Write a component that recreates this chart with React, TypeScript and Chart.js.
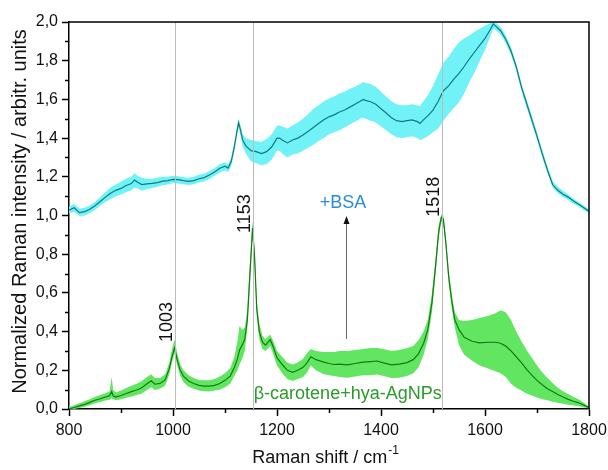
import { useEffect, useRef } from 'react';
import { Chart, registerables } from 'chart.js';

Chart.register(...registerables);

// ---- data ----
const cyanX = [800,810,820,830,840,850,860,870,880,890,900,910,920,926,932,940,950,960,970,980,990,1000,1010,1020,1030,1040,1050,1060,1070,1080,1090,1100,1106,1112,1118,1122,1126,1130,1134,1140,1150,1160,1170,1180,1190,1200,1205,1210,1220,1230,1240,1250,1260,1270,1280,1290,1300,1310,1320,1330,1340,1350,1360,1366,1370,1380,1390,1400,1410,1420,1430,1440,1450,1460,1470,1475,1480,1490,1500,1510,1520,1530,1540,1550,1560,1570,1580,1590,1600,1610,1616,1620,1630,1640,1650,1660,1670,1680,1690,1700,1710,1720,1730,1740,1750,1760,1770,1780,1790,1800];
const cyanMean = [1.028,1.04,1.015,1.02,1.032,1.05,1.072,1.095,1.115,1.13,1.14,1.155,1.165,1.183,1.172,1.16,1.163,1.166,1.17,1.178,1.18,1.187,1.185,1.18,1.176,1.18,1.19,1.196,1.209,1.225,1.244,1.255,1.245,1.28,1.356,1.42,1.48,1.44,1.39,1.36,1.335,1.33,1.32,1.33,1.355,1.4,1.4,1.39,1.375,1.39,1.4,1.416,1.435,1.455,1.475,1.495,1.51,1.52,1.535,1.545,1.56,1.575,1.59,1.6,1.595,1.588,1.575,1.552,1.53,1.505,1.49,1.485,1.49,1.494,1.485,1.476,1.49,1.515,1.545,1.59,1.645,1.67,1.705,1.735,1.77,1.81,1.845,1.88,1.915,1.96,1.99,1.98,1.955,1.91,1.85,1.77,1.665,1.58,1.495,1.41,1.32,1.235,1.16,1.13,1.11,1.095,1.075,1.058,1.04,1.022];
const cyanUpper = [1.045,1.06,1.035,1.04,1.052,1.07,1.095,1.12,1.145,1.16,1.175,1.19,1.2,1.22,1.205,1.195,1.19,1.19,1.195,1.2,1.2,1.205,1.203,1.198,1.195,1.2,1.21,1.216,1.23,1.245,1.265,1.275,1.265,1.3,1.38,1.44,1.5,1.465,1.42,1.4,1.39,1.385,1.38,1.395,1.42,1.465,1.465,1.46,1.45,1.465,1.48,1.5,1.525,1.55,1.57,1.59,1.605,1.615,1.63,1.64,1.655,1.665,1.68,1.69,1.685,1.68,1.665,1.64,1.615,1.59,1.575,1.57,1.57,1.575,1.57,1.565,1.585,1.62,1.67,1.73,1.79,1.82,1.86,1.895,1.915,1.93,1.95,1.965,1.98,1.995,2.0,1.998,1.975,1.93,1.87,1.785,1.685,1.6,1.515,1.43,1.34,1.255,1.18,1.148,1.128,1.108,1.088,1.07,1.052,1.032];
const cyanLower = [1.01,1.02,0.998,1.0,1.012,1.03,1.05,1.07,1.085,1.1,1.108,1.12,1.13,1.145,1.14,1.128,1.136,1.142,1.148,1.156,1.16,1.168,1.166,1.162,1.158,1.162,1.17,1.176,1.188,1.205,1.222,1.232,1.225,1.255,1.33,1.395,1.455,1.41,1.355,1.32,1.28,1.27,1.26,1.265,1.29,1.335,1.335,1.32,1.3,1.315,1.32,1.335,1.35,1.365,1.385,1.4,1.42,1.43,1.44,1.455,1.47,1.485,1.5,1.505,1.5,1.49,1.48,1.46,1.44,1.42,1.405,1.4,1.405,1.41,1.4,1.39,1.395,1.41,1.43,1.45,1.49,1.525,1.555,1.585,1.63,1.69,1.74,1.8,1.855,1.925,1.965,1.96,1.935,1.89,1.83,1.75,1.645,1.56,1.475,1.39,1.3,1.22,1.145,1.115,1.095,1.08,1.062,1.046,1.028,1.012];

const greenX = [800,810,820,830,840,850,860,870,878,882,885,890,900,910,920,930,940,950,958,965,975,985,993,998,1003,1008,1014,1020,1030,1040,1050,1060,1070,1080,1090,1100,1110,1118,1124,1128,1133,1138,1143,1148,1153,1157,1161,1166,1172,1178,1187,1193,1200,1210,1220,1230,1240,1250,1258,1265,1275,1290,1300,1310,1320,1335,1350,1365,1380,1392,1405,1420,1435,1450,1462,1472,1482,1490,1498,1505,1511,1516,1520,1525,1530,1536,1542,1550,1560,1575,1590,1605,1620,1630,1640,1650,1660,1670,1680,1690,1700,1710,1720,1730,1740,1750,1760,1770,1780,1790,1800];
const greenMean = [0.0,0.008,0.016,0.024,0.034,0.045,0.053,0.062,0.068,0.09,0.068,0.062,0.07,0.08,0.09,0.098,0.11,0.13,0.146,0.128,0.132,0.15,0.21,0.27,0.315,0.255,0.2,0.17,0.145,0.132,0.122,0.118,0.118,0.122,0.132,0.148,0.17,0.215,0.26,0.305,0.33,0.36,0.46,0.7,0.935,0.78,0.52,0.4,0.345,0.33,0.358,0.32,0.265,0.23,0.2,0.19,0.2,0.215,0.24,0.27,0.255,0.242,0.235,0.23,0.232,0.228,0.235,0.242,0.245,0.248,0.238,0.228,0.232,0.24,0.255,0.285,0.34,0.41,0.55,0.74,0.92,0.99,0.98,0.85,0.69,0.56,0.46,0.41,0.37,0.35,0.342,0.345,0.345,0.34,0.325,0.3,0.27,0.24,0.205,0.175,0.148,0.125,0.105,0.09,0.075,0.062,0.05,0.04,0.032,0.02,0.008];
const greenUpper = [0.01,0.02,0.03,0.04,0.05,0.063,0.072,0.082,0.09,0.165,0.1,0.085,0.095,0.108,0.12,0.13,0.145,0.165,0.18,0.16,0.16,0.18,0.24,0.31,0.36,0.29,0.23,0.2,0.175,0.16,0.15,0.148,0.148,0.155,0.168,0.185,0.21,0.27,0.35,0.43,0.41,0.42,0.52,0.76,0.975,0.82,0.56,0.44,0.38,0.36,0.385,0.35,0.3,0.27,0.24,0.23,0.24,0.26,0.29,0.31,0.3,0.295,0.295,0.295,0.3,0.3,0.305,0.31,0.315,0.315,0.31,0.3,0.305,0.315,0.325,0.355,0.4,0.46,0.6,0.78,0.95,1.005,1.0,0.88,0.72,0.59,0.5,0.46,0.455,0.46,0.47,0.48,0.495,0.51,0.5,0.46,0.4,0.35,0.305,0.265,0.225,0.19,0.16,0.135,0.11,0.092,0.078,0.062,0.05,0.032,0.012];
const greenLower = [0.0,0.0,0.005,0.012,0.02,0.03,0.036,0.044,0.048,0.055,0.05,0.045,0.05,0.058,0.065,0.072,0.08,0.098,0.112,0.098,0.105,0.122,0.18,0.24,0.285,0.225,0.17,0.14,0.115,0.105,0.095,0.092,0.09,0.095,0.1,0.112,0.13,0.17,0.2,0.23,0.26,0.3,0.42,0.65,0.89,0.74,0.48,0.36,0.31,0.3,0.325,0.28,0.225,0.185,0.155,0.145,0.155,0.165,0.19,0.225,0.2,0.18,0.175,0.17,0.165,0.162,0.168,0.175,0.175,0.178,0.17,0.16,0.162,0.17,0.185,0.215,0.28,0.36,0.5,0.7,0.88,0.97,0.955,0.82,0.65,0.52,0.42,0.33,0.28,0.25,0.225,0.21,0.195,0.185,0.165,0.13,0.11,0.095,0.08,0.07,0.06,0.05,0.045,0.038,0.032,0.027,0.022,0.018,0.014,0.008,0.003];

const peakPositions = [1003, 1153, 1518];
const peakLabels = ['1003', '1153', '1518'];
const xMinorTicks = [900, 1100, 1300, 1500, 1700];
const yMinorTicks = [0.1, 0.3, 0.5, 0.7, 0.9, 1.1, 1.3, 1.5, 1.7, 1.9];

const FONT = "'Liberation Sans', Arial, sans-serif";

export default function App() {
  const ref = useRef<HTMLCanvasElement>(null);

  useEffect(() => {
    const canvas = ref.current;
    if (!canvas) return;
    const pts = (xs: number[], ys: number[]) => xs.map((x, i) => ({ x, y: ys[i] }));

    const decor = {
      id: 'decor',
      afterDatasetsDraw(chart: any) {
        const { ctx, chartArea: a, scales } = chart;
        const xs = scales.x;
        const ys = scales.y;
        ctx.save();
        // reference lines
        ctx.strokeStyle = '#bdbdbd';
        ctx.lineWidth = 1;
        peakPositions.forEach((v) => {
          const px = Math.round(xs.getPixelForValue(v)) + 0.5;
          ctx.beginPath();
          ctx.moveTo(px, a.top);
          ctx.lineTo(px, a.bottom);
          ctx.stroke();
        });
        // peak labels (rotated)
        const labelBottoms = [0.346, 0.91, 0.994];
        ctx.fillStyle = '#111';
        ctx.font = `18px ${FONT}`;
        ctx.textAlign = 'left';
        ctx.textBaseline = 'alphabetic';
        peakPositions.forEach((v, i) => {
          const px = xs.getPixelForValue(v) - 3;
          const py = ys.getPixelForValue(labelBottoms[i]);
          ctx.save();
          ctx.translate(px, py);
          ctx.rotate(-Math.PI / 2);
          ctx.fillText(peakLabels[i], 0, 0);
          ctx.restore();
        });
        // arrow
        const ax = Math.round(xs.getPixelForValue(1332)) + 0.5;
        const ay0 = ys.getPixelForValue(0.362);
        const ay1 = ys.getPixelForValue(0.997);
        ctx.strokeStyle = '#666';
        ctx.lineWidth = 1;
        ctx.beginPath();
        ctx.moveTo(ax, ay0);
        ctx.lineTo(ax, ay1 + 6);
        ctx.stroke();
        ctx.fillStyle = '#111';
        ctx.beginPath();
        ctx.moveTo(ax, ay1);
        ctx.lineTo(ax - 3, ay1 + 8);
        ctx.lineTo(ax + 3, ay1 + 8);
        ctx.closePath();
        ctx.fill();
        // +BSA
        ctx.fillStyle = '#2a8fd2';
        ctx.textAlign = 'center';
        ctx.textBaseline = 'middle';
        ctx.font = `18px ${FONT}`;
        ctx.fillText('+BSA', xs.getPixelForValue(1327), ys.getPixelForValue(1.067));
        // series label
        ctx.fillStyle = '#2a9a2a';
        ctx.fillText('β-carotene+hya-AgNPs', xs.getPixelForValue(1336), ys.getPixelForValue(0.076));
        ctx.restore();
      },
      afterDraw(chart: any) {
        const { ctx, chartArea: a, scales } = chart;
        const xs = scales.x;
        const ys = scales.y;
        ctx.save();
        ctx.strokeStyle = '#000';
        ctx.lineWidth = 1.5;
        ctx.beginPath();
        ctx.moveTo(a.left, a.top);
        ctx.lineTo(a.right, a.top);
        ctx.lineTo(a.right, a.bottom);
        ctx.stroke();
        ctx.lineWidth = 1.5;
        xMinorTicks.forEach((v) => {
          const px = Math.round(xs.getPixelForValue(v)) + 0.5;
          ctx.beginPath();
          ctx.moveTo(px, a.bottom);
          ctx.lineTo(px, a.bottom + 4);
          ctx.stroke();
        });
        yMinorTicks.forEach((v) => {
          const py = Math.round(ys.getPixelForValue(v)) + 0.5;
          ctx.beginPath();
          ctx.moveTo(a.left, py);
          ctx.lineTo(a.left - 4, py);
          ctx.stroke();
        });
        // axis titles
        ctx.fillStyle = '#111';
        ctx.textBaseline = 'alphabetic';
        const t1 = 'Raman shift / cm';
        ctx.font = `18px ${FONT}`;
        const w1 = ctx.measureText(t1).width;
        ctx.font = `12px ${FONT}`;
        const w2 = ctx.measureText('-1').width;
        const cx = (a.left + a.right) / 2 - 4;
        const start = cx - (w1 + w2) / 2;
        ctx.textAlign = 'left';
        ctx.font = `18px ${FONT}`;
        ctx.fillText(t1, start, 463);
        ctx.font = `12px ${FONT}`;
        ctx.fillText('-1', start + w1 + 1, 454);
        ctx.save();
        ctx.translate(26, (a.top + a.bottom) / 2 - 4);
        ctx.rotate(-Math.PI / 2);
        ctx.textAlign = 'center';
        ctx.font = `20px ${FONT}`;
        ctx.fillText('Normalized Raman intensity / arbitr. units', 0, 0);
        ctx.restore();
        ctx.restore();
      },
    };

    const chart = new Chart(canvas, {
      type: 'line',
      data: {
        datasets: [
          { data: pts(cyanX, cyanUpper), order: 2, borderWidth: 0, pointRadius: 0, fill: false, borderColor: 'rgba(0,0,0,0)' },
          { data: pts(cyanX, cyanLower), order: 2, borderWidth: 0, pointRadius: 0, fill: '-1', borderColor: 'rgba(0,0,0,0)', backgroundColor: '#70f2f6' },
          { data: pts(greenX, greenUpper), order: 2, borderWidth: 0, pointRadius: 0, fill: false, borderColor: 'rgba(0,0,0,0)' },
          { data: pts(greenX, greenLower), order: 2, borderWidth: 0, pointRadius: 0, fill: '-1', borderColor: 'rgba(0,0,0,0)', backgroundColor: '#62e662' },
          { data: pts(cyanX, cyanMean), order: 0, borderWidth: 1.2, pointRadius: 0, fill: false, borderColor: '#117a80' },
          { data: pts(greenX, greenMean), order: 0, borderWidth: 1.2, pointRadius: 0, fill: false, borderColor: '#127a12' },
        ],
      },
      options: {
        responsive: false,
        devicePixelRatio: 1,
        animation: false,
        events: [],
        layout: { padding: { left: 0, right: 19, top: 22, bottom: 0 } },
        plugins: { legend: { display: false }, tooltip: { enabled: false } },
        scales: {
          x: {
            type: 'linear',
            min: 800,
            max: 1800,
            afterFit: (s: any) => { s.height = 61; s.paddingLeft = 0; s.paddingRight = 0; },
            ticks: {
              stepSize: 200,
              autoSkip: false,
              maxRotation: 0,
              padding: 5,
              color: '#111',
              font: { size: 16, family: FONT },
              callback: (v: any) => String(Math.round(Number(v))),
            },
            grid: { display: true, drawOnChartArea: false, drawTicks: true, tickLength: 7, tickWidth: 1.5, tickColor: '#000' },
            border: { display: true, color: '#000', width: 1.5 },
          },
          y: {
            type: 'linear',
            min: 0,
            max: 2,
            afterFit: (s: any) => { s.width = 69; s.paddingTop = 0; s.paddingBottom = 0; },
            ticks: {
              stepSize: 0.2,
              padding: 4,
              color: '#111',
              font: { size: 16, family: FONT },
              callback: (v: any) => Number(v).toFixed(1).replace('.', ','),
            },
            grid: { display: true, drawOnChartArea: false, drawTicks: true, tickLength: 7, tickWidth: 1.5, tickColor: '#000' },
            border: { display: true, color: '#000', width: 1.5 },
          },
        },
      },
      plugins: [decor],
    });
    return () => chart.destroy();
  }, []);

  return (
    <div style={{ position: 'fixed', left: 0, top: 0, width: 608, height: 470, background: '#fff' }}>
      <canvas ref={ref} width={608} height={470} style={{ width: '608px', height: '470px', display: 'block' }} />
    </div>
  );
}
